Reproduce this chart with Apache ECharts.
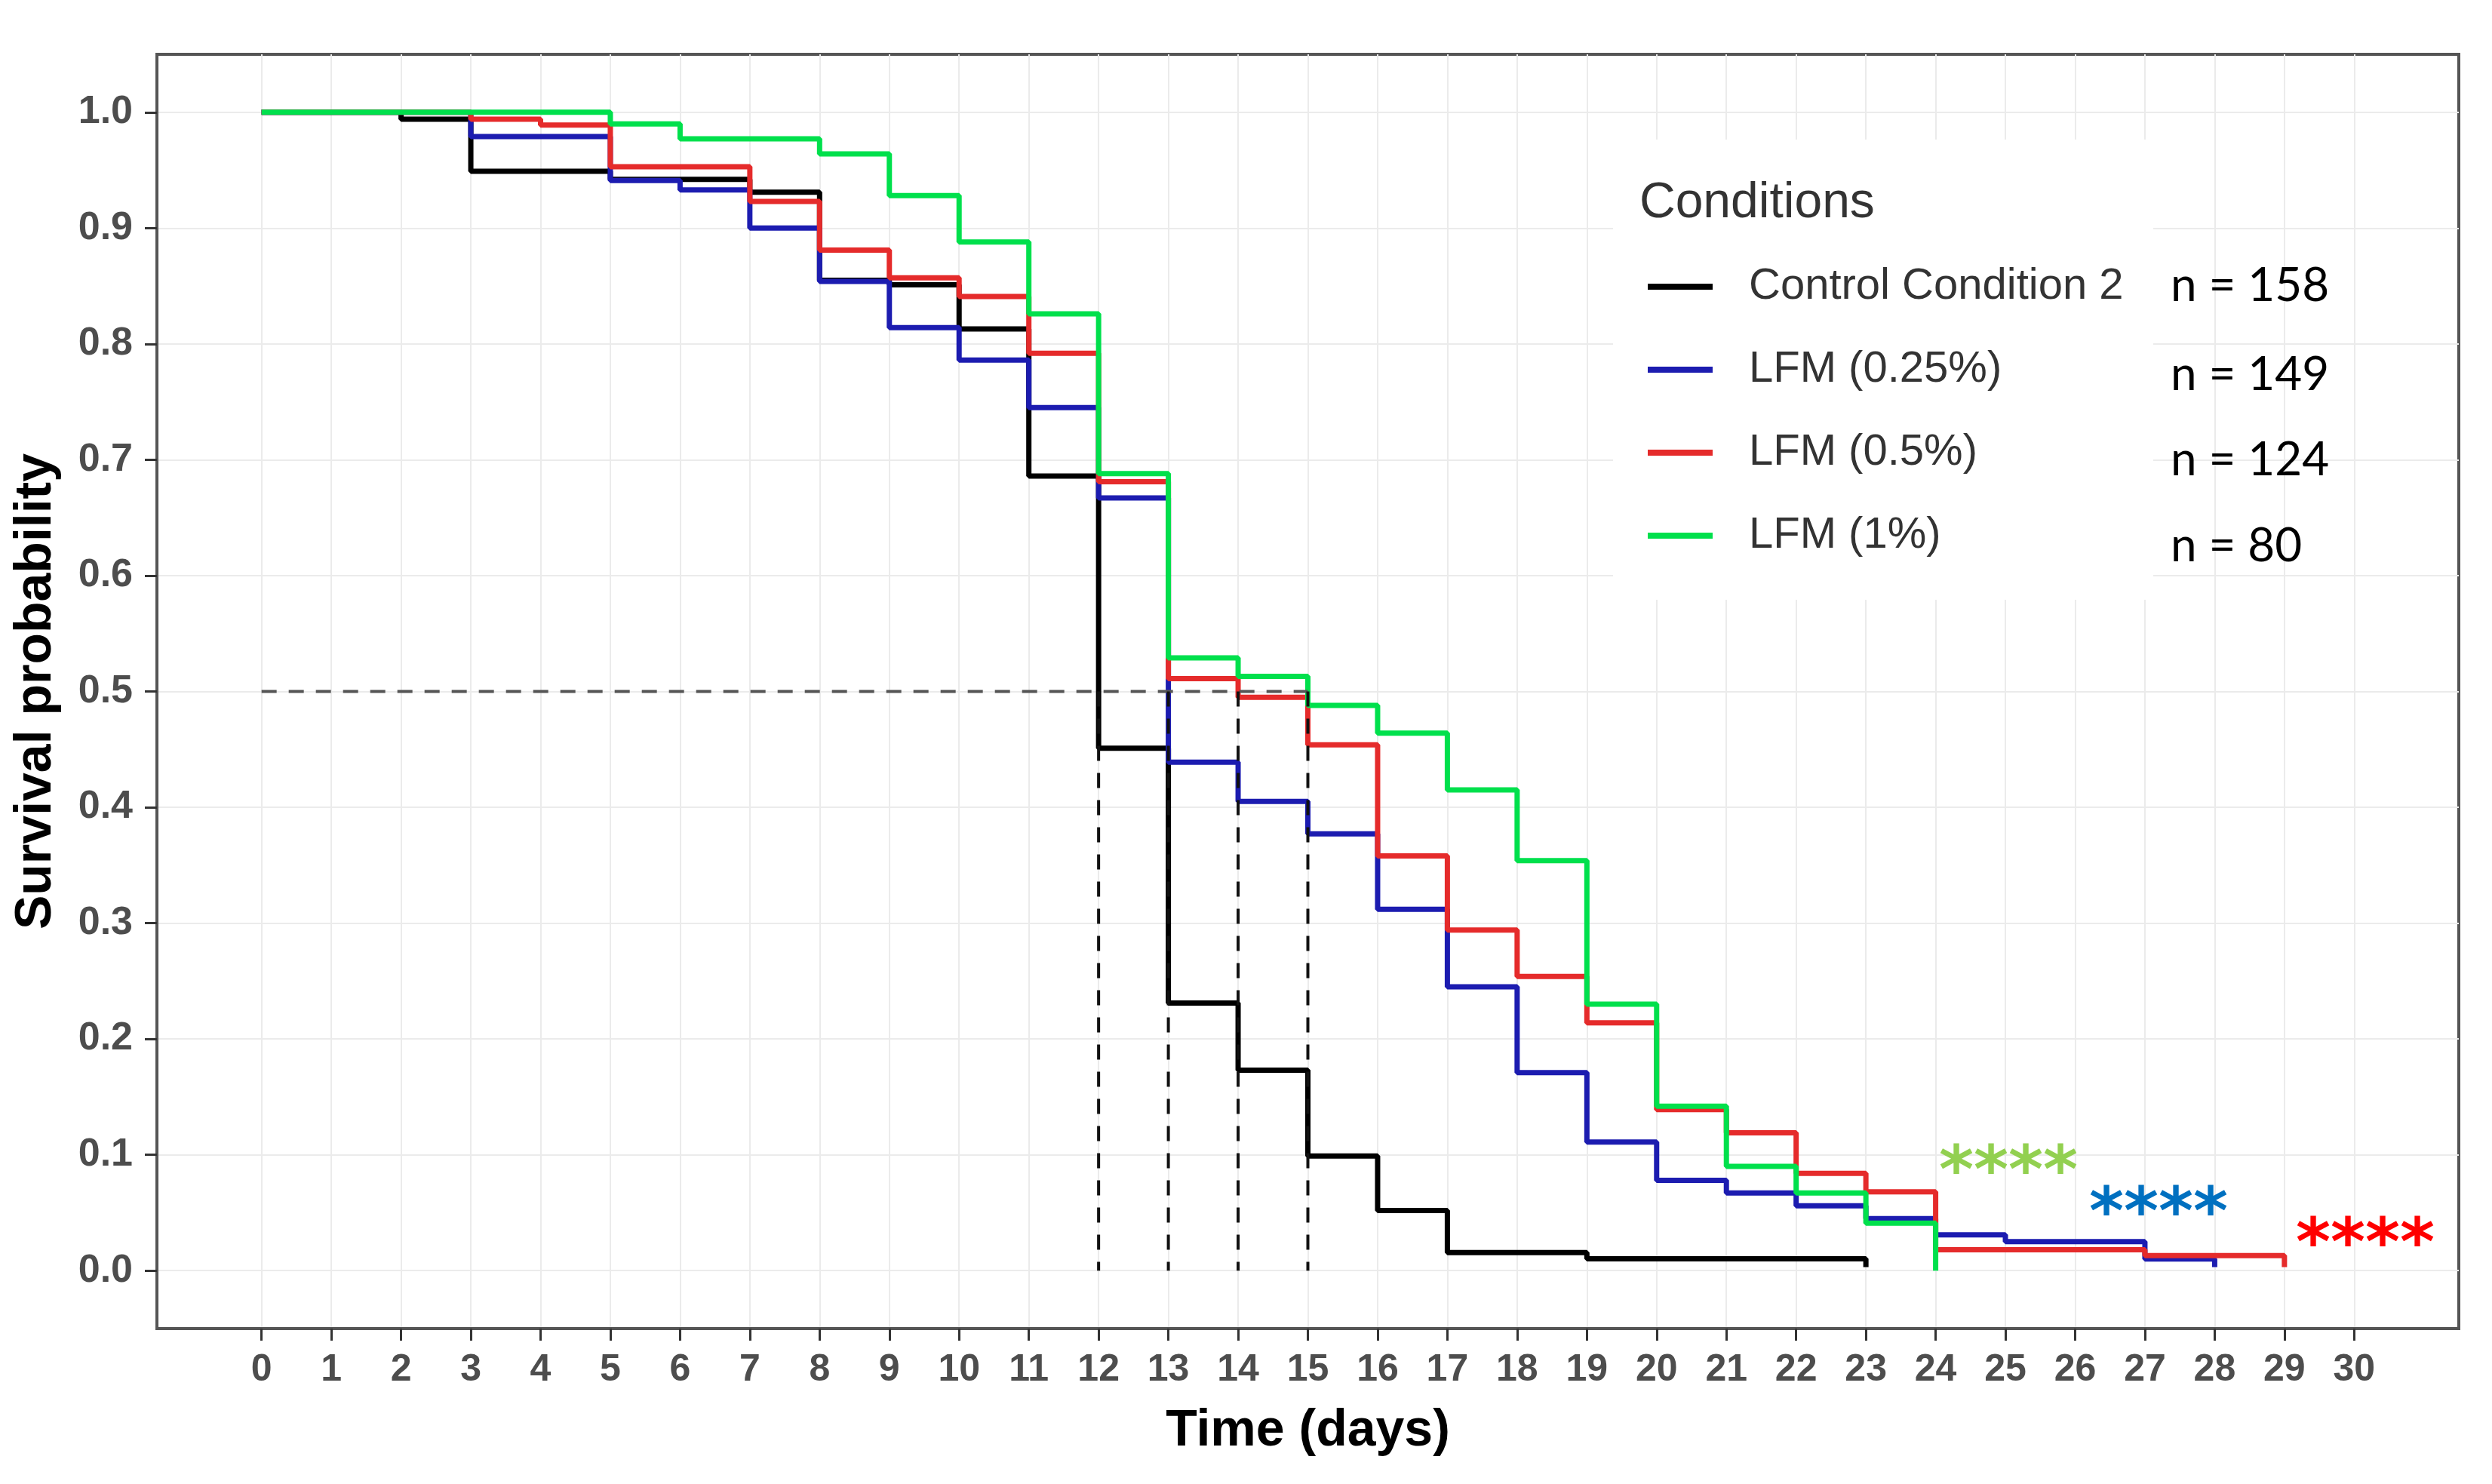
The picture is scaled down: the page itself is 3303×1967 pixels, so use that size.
<!DOCTYPE html>
<html><head><meta charset="utf-8">
<script src="https://cdn.jsdelivr.net/npm/echarts@6/dist/echarts.min.js"></script>
<style>html,body{margin:0;padding:0;background:#fff}#c{width:3303px;height:1967px}</style>
</head><body><div id="c"></div>
<script>
// ---- data ----
const seriesNames = ['Control Condition 2', 'LFM (0.25%)', 'LFM (0.5%)', 'LFM (1%)'];
const nLabels = ['n = 158', 'n = 149', 'n = 124', 'n = 80'];
const controlDays = [0,1,2,3,4,5,6,7,8,9,10,11,12,13,14,15,16,17,18,19,20,21,22,23];
const controlSurv = [1.0,1.0,0.994,0.949,0.949,0.942,0.942,0.931,0.855,0.851,0.813,0.686,0.451,0.231,0.173,0.099,0.052,0.0156,0.0156,0.0102,0.0102,0.0102,0.0102,0.003];
const lfm025Days = [0,1,2,3,4,5,6,7,8,9,10,11,12,13,14,15,16,17,18,19,20,21,22,23,24,25,26,27,28];
const lfm025Surv = [1.0,1.0,1.0,0.979,0.979,0.941,0.933,0.900,0.854,0.814,0.786,0.745,0.667,0.439,0.405,0.377,0.312,0.245,0.171,0.111,0.078,0.067,0.056,0.045,0.031,0.025,0.025,0.010,0.003];
const lfm05Days = [0,1,2,3,4,5,6,7,8,9,10,11,12,13,14,15,16,17,18,19,20,21,22,23,24,25,26,27,28,29];
const lfm05Surv = [1.0,1.0,1.0,0.994,0.989,0.953,0.953,0.923,0.881,0.857,0.841,0.792,0.681,0.511,0.495,0.454,0.358,0.294,0.254,0.214,0.139,0.119,0.084,0.068,0.018,0.018,0.018,0.013,0.013,0.003];
const lfm1Days = [0,1,2,3,4,5,6,7,8,9,10,11,12,13,14,15,16,17,18,19,20,21,22,23,24];
const lfm1Surv = [1.0,1.0,1.0,1.0,1.0,0.990,0.977,0.977,0.964,0.928,0.888,0.826,0.688,0.529,0.513,0.488,0.464,0.415,0.354,0.230,0.142,0.090,0.067,0.041,0.0];
const medianLevel = 0.5;
const medianDays = [12, 13, 14, 15];
const xTicks = [0,1,2,3,4,5,6,7,8,9,10,11,12,13,14,15,16,17,18,19,20,21,22,23,24,25,26,27,28,29,30];
const yTicks = [0,0.1,0.2,0.3,0.4,0.5,0.6,0.7,0.8,0.9,1.0];
const sigMarks = ['****', '****', '****'];

// ---- chart ----
const colors = ['#000000', '#1c1cb0', '#e52b2b', '#00e04c'];
const FF = 'Liberation Sans, Arial, sans-serif';
const zip = (a, b) => a.map((d, i) => [d, b[i]]);
const curves = [zip(controlDays, controlSurv), zip(lfm025Days, lfm025Surv), zip(lfm05Days, lfm05Surv), zip(lfm1Days, lfm1Surv)];

const chart = echarts.init(document.getElementById('c'), null, {renderer: 'canvas'});
const series = curves.map((data, i) => ({
  name: seriesNames[i], type: 'line', step: 'end', data: data,
  showSymbol: false, symbol: 'none', color: colors[i],
  lineStyle: {color: colors[i], width: 7}, z: 2 + i * 0.1, animation: false
}));
// median lines
series.push({
  name: 'medianH', type: 'line', data: [[0, medianLevel], [medianDays[medianDays.length - 1], medianLevel]],
  showSymbol: false, symbol: 'none', lineStyle: {color: '#555', width: 4, type: [20, 16]}, z: 5, animation: false
});
medianDays.forEach(d => series.push({
  name: 'medianV' + d, type: 'line', data: [[d, medianLevel], [d, 0]],
  showSymbol: false, symbol: 'none', lineStyle: {color: '#111', width: 4, type: [20, 16]}, z: 5, animation: false
}));

const nY = [379, 497, 610, 724];
const sig = [
  {x: 2662, y: 1557, color: '#92d050'},
  {x: 2861, y: 1612, color: '#0070c0'},
  {x: 3135, y: 1653, color: '#ff0000'}
];

chart.setOption({
  animation: false,
  backgroundColor: '#ffffff',
  grid: {left: 208, top: 72, width: 3051, height: 1689, containLabel: false, show: true, borderColor: '#555', borderWidth: 4, backgroundColor: 'transparent'},
  xAxis: {
    type: 'value', min: -1.5, max: 31.5, interval: 0.5,
    axisLine: {show: true, onZero: false, lineStyle: {color: '#555', width: 4}},
    axisTick: {show: true, customValues: xTicks, length: 16, lineStyle: {color: '#333', width: 3}},
    axisLabel: {customValues: xTicks, formatter: v => String(Math.round(v)), fontSize: 50, fontWeight: 'bold', color: '#4d4d4d', margin: 30, fontFamily: FF},
    splitLine: {show: true, lineStyle: {color: '#ebebeb', width: 2}},
    name: 'Time (days)', nameLocation: 'middle', nameGap: 102,
    nameTextStyle: {fontSize: 68, fontWeight: 'bold', color: '#000', fontFamily: FF}
  },
  yAxis: {
    type: 'value', min: -0.05, max: 1.05, interval: 0.05,
    axisLine: {show: true, onZero: false, lineStyle: {color: '#555', width: 4}},
    axisTick: {show: true, customValues: yTicks, length: 16, lineStyle: {color: '#333', width: 3}},
    axisLabel: {customValues: yTicks, formatter: v => v.toFixed(1), fontSize: 52, fontWeight: 'bold', color: '#4d4d4d', margin: 32, fontFamily: FF},
    splitLine: {show: true, lineStyle: {color: '#ebebeb', width: 2}},
    name: 'Survival probability', nameLocation: 'middle', nameGap: 126,
    nameTextStyle: {fontSize: 68, fontWeight: 'bold', color: '#000', fontFamily: FF}
  },
  legend: {
    data: seriesNames, orient: 'vertical', left: 2184, top: 345, padding: 0,
    itemWidth: 86, itemHeight: 8, itemGap: 40, icon: 'rect', selectedMode: false,
    textStyle: {fontSize: 58, color: '#333', fontFamily: FF, lineHeight: 70, padding: [0, 0, 0, 43]},
    z: 10
  },
  graphic: [
    {type: 'rect', shape: {x: 2138, y: 185, width: 716, height: 610}, style: {fill: '#ffffff'}, z: 1, silent: true},
    {type: 'text', x: 2173, y: 270, style: {text: 'Conditions', font: '66px ' + FF, fill: '#333', textVerticalAlign: 'middle', textAlign: 'left'}, z: 10},
  ].concat(nLabels.map((t, i) => ({
    type: 'text', x: 2877, y: nY[i], style: {text: t, font: '62px Lato, sans-serif', fill: '#000', textVerticalAlign: 'middle', textAlign: 'left'}, z: 10
  }))).concat(sig.map((s, i) => ({
    type: 'text', x: s.x, y: s.y, style: {text: sigMarks[i], font: 'bold 88px DejaVu Sans, sans-serif', fill: s.color, textVerticalAlign: 'middle', textAlign: 'center'}, z: 10
  }))),
  series: series
});
</script></body></html>
